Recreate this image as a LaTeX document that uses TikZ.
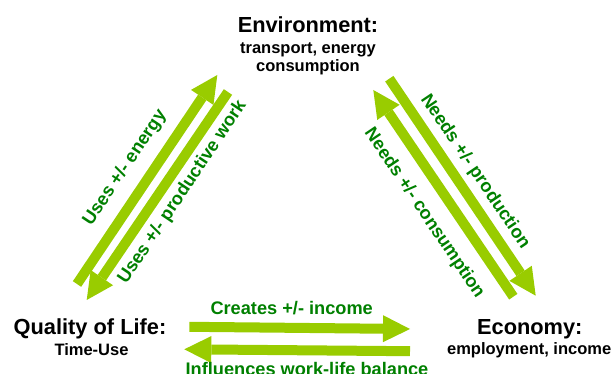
\documentclass[tikz,border=0pt]{standalone}
\usepackage{fontspec}
\setmainfont{Liberation Sans}
\usetikzlibrary{arrows.meta}
\definecolor{flowgreen}{RGB}{153,204,0}
\definecolor{textgreen}{RGB}{0,128,0}

\begin{document}
\begin{tikzpicture}[x=1pt,y=-1pt,
    sector/.style={font=\fontsize{21.8}{24}\selectfont\bfseries, inner sep=0pt, anchor=base},
    detail/.style={font=\fontsize{16.5}{18.4}\selectfont\bfseries, inner sep=0pt, anchor=base, align=center},
    flowlabel/.style={font=\fontsize{18.2}{20}\selectfont\bfseries, text=textgreen, inner sep=0pt},
    flow/.style={draw=flowgreen, line width=10pt, -{Triangle[length=27pt,width=27pt,line width=0pt]}}]
    \useasboundingbox (0,0) rectangle (611,374);

    % Sectors
    \node[sector] (env) at (308,32.3) {Environment:};
    \node[detail] (envsub) at (308,71.7) {transport, energy\\consumption};
    \node[sector] (qol) at (90,334.3) {Quality of Life:};
    \node[detail] (qolsub) at (91.5,355.3) {Time-Use};
    \node[sector] (eco) at (529.8,334.3) {Economy:};
    \node[detail] (ecosub) at (529.2,354.5) {employment, income};

    % Arrow ends
    \coordinate (qe1) at (77,284);      \coordinate (qe2) at (217.3,75);
    \coordinate (eq1) at (228,92);      \coordinate (eq2) at (86.7,300);
    \coordinate (ee1) at (389.3,78.7);  \coordinate (ee2) at (535.7,295.7);
    \coordinate (ce1) at (513.3,296.7); \coordinate (ce2) at (373.3,90);
    \coordinate (qc1) at (189.3,326.8); \coordinate (qc2) at (410,329);
    \coordinate (cq1) at (410,351.2);   \coordinate (cq2) at (184.3,349.3);

    % Flows
    \draw[flow] (qe1) -- (qe2);
    \draw[flow] (eq1) -- (eq2);
    \draw[flow] (ee1) -- (ee2);
    \draw[flow] (ce1) -- (ce2);
    \draw[flow] (qc1) -- (qc2);
    \draw[flow] (cq1) -- (cq2);

    % Flow labels
    \node[flowlabel, rotate=56.2] (energy) at (125,168) {Uses +/- energy};
    \node[flowlabel, rotate=56.2] (work) at (182.5,192.5) {Uses +/- productive work};
    \node[flowlabel, rotate=-56] (production) at (475,171.7) {Needs +/- production};
    \node[flowlabel, rotate=-56] (consumption) at (424.2,213.3) {Needs +/- consumption};
    \node[flowlabel, anchor=base] (income) at (291.7,314.3) {Creates +/- income};
    \node[flowlabel, anchor=base] (balance) at (307,375.7) {Influences work-life balance};
\end{tikzpicture}
\end{document}
